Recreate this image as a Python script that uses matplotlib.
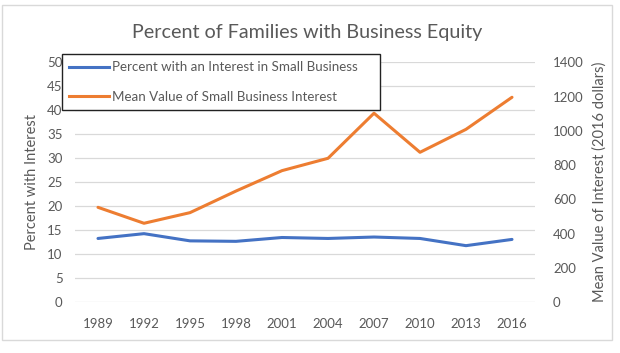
import matplotlib.pyplot as plt
from matplotlib.patches import Rectangle
from matplotlib.lines import Line2D

# data
years = ['1989', '1992', '1995', '1998', '2001', '2004', '2007', '2010', '2013', '2016']
pct_interest = [13.3, 14.3, 12.8, 12.7, 13.5, 13.3, 13.6, 13.3, 11.8, 13.1]
mean_value = [554, 461, 523, 649, 768, 840, 1103, 875, 1009, 1196]

blue = '#4472C4'
orange = '#ED7D31'
txt = '#595959'
grid = '#D9D9D9'

plt.rcParams['font.family'] = ['Lato', 'DejaVu Sans']

W, H = 620, 353
fig = plt.figure(figsize=(W / 100, H / 100), dpi=100)

# outer chart border
fig.patches.append(Rectangle((2 / W, 1 - 340 / H), 610 / W, 335 / H,
                             transform=fig.transFigure, fill=False,
                             edgecolor='#D9D9D9', linewidth=1.0))

# plot area in pixels: x 75..535, y 62..302
ax = fig.add_axes([75 / W, 1 - 302.3 / H, 460 / W, 240 / H])
ax2 = ax.twinx()

x = range(len(years))
ax.plot(x, pct_interest, color=blue, linewidth=2.2, solid_capstyle='round')
ax2.plot(x, mean_value, color=orange, linewidth=2.2, solid_capstyle='round')

ax.set_xlim(-0.5, len(years) - 0.5)
ax.set_ylim(0, 50)
ax2.set_ylim(0, 1400)
ax.set_yticks(range(0, 51, 5))
ax2.set_yticks(range(0, 1401, 200))
ax.set_xticks(list(x))
ax.set_xticklabels(years)

ax.yaxis.grid(True, color=grid, linewidth=0.9)
ax.set_axisbelow(True)
for a in (ax, ax2):
    for s in a.spines.values():
        s.set_visible(False)
    a.tick_params(length=0, labelsize=9.5, labelcolor=txt)
ax.tick_params(axis='x', pad=11)
ax.tick_params(axis='y', pad=9)
ax2.tick_params(axis='y', pad=13)

ax.set_ylabel('Percent with Interest', fontsize=10.5, color=txt, labelpad=6)
ax2.set_ylabel('Mean Value of Interest (2016 dollars)', fontsize=10.5, color=txt, labelpad=6)

fig.text(307 / W, 1 - 32.5 / H, 'Percent of Families with Business Equity',
         ha='center', va='center', fontsize=14.2, color=txt)

# legend box (pixels: x 62..380, y 54..112)
handles = [Line2D([], [], color=blue, linewidth=2.2),
           Line2D([], [], color=orange, linewidth=2.2)]
labels = ['Percent with an Interest in Small Business',
          'Mean Value of Small Business Interest']
leg = ax2.legend(handles, labels, loc='upper left',
                 bbox_to_anchor=(61.7 / W, 1 - 111.7 / H, 318.3 / W, 57.7 / H),
                 bbox_transform=fig.transFigure, mode='expand',
                 frameon=True, fancybox=False, framealpha=1, edgecolor='#222222',
                 fontsize=9.6, handlelength=3.0, handletextpad=0.2,
                 labelspacing=1.3, borderpad=0.55, borderaxespad=0)
leg.get_frame().set_linewidth(1.0)
for t in leg.get_texts():
    t.set_color(txt)

fig.savefig('out.png', dpi=100)
